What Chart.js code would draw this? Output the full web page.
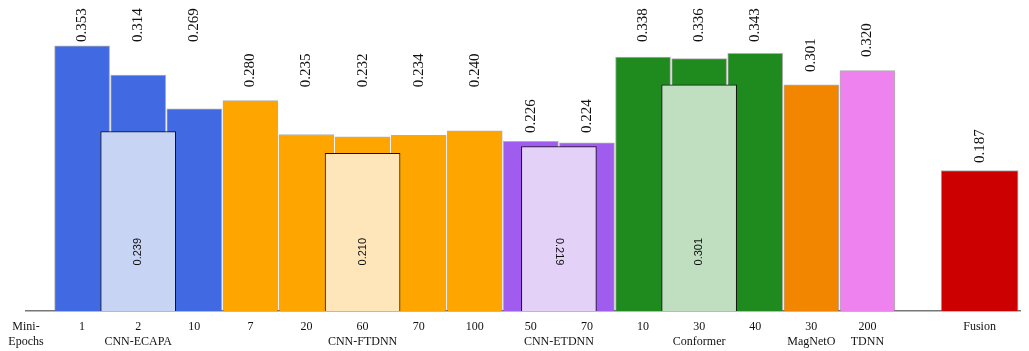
<!DOCTYPE html>
<html>
<head>
<meta charset="utf-8">
<script src="https://cdn.jsdelivr.net/npm/chart.js@4.4.1/dist/chart.umd.min.js"></script>
<style>
  body { margin: 0; background: #fff; }
  #wrap { width: 1029px; height: 351px; }
</style>
</head>
<body>
<div id="wrap"><canvas id="eer-chart" width="1029" height="351"></canvas></div>
<script>
// values
const epochLabels = ['1', '2', '10', '7', '20', '60', '70', '100', '50', '70', '10', '30', '40', '30', '200'];
const barValues = [0.353, 0.314, 0.269, 0.280, 0.235, 0.232, 0.234, 0.240, 0.226, 0.224, 0.338, 0.336, 0.343, 0.301, 0.320];
const groupNames = ['CNN-ECAPA', 'CNN-FTDNN', 'CNN-ETDNN', 'Conformer', 'MagNetO', 'TDNN'];
const groupSizes = [3, 5, 2, 3, 1, 1];
const avgValues = [0.239, 0.210, 0.219, 0.301];   // averages for the first four groups
const fusionLabel = 'Fusion';
const fusionValue = 0.187;

const groupColors = ['#4169E1', '#FFA500', '#A05CEE', '#1F8B1F', '#F38600', '#EE82EE'];
const avgColors = ['#C8D4F4', '#FFE6BA', '#E4D1F8', '#C0DEC0'];
const fusionColor = '#CC0000';
// how far above a group's tallest bar its value labels start (value units)
const labelLift = [0.005, 0.018, 0.011, 0.015, 0.017, 0.018];
const fusionLift = 0.010;

// positions on the x scale: one unit per bar, one empty slot before Fusion
const barPositions = barValues.map((v, i) => i + 1);
const fusionPosition = barValues.length + 2;

const barColors = [];
const barLabelLevel = [];
const groupCenters = [];
let start = 1;
groupSizes.forEach((n, g) => {
    const vals = barValues.slice(start - 1, start - 1 + n);
    const level = Math.max(...vals) + labelLift[g];
    for (let k = 0; k < n; k++) {
        barColors.push(groupColors[g]);
        barLabelLevel.push(level);
    }
    groupCenters.push(start + (n - 1) / 2);
    start += n;
});

// tick labels: first line epochs, second line group name
const tickLabels = {};
tickLabels[0] = ['Mini-', 'Epochs'];
barPositions.forEach((p, i) => { tickLabels[p] = [epochLabels[i]]; });
groupCenters.forEach((c, g) => {
    if (tickLabels[c]) tickLabels[c] = [tickLabels[c][0], groupNames[g]];
    else tickLabels[c] = ['', groupNames[g]];
});
tickLabels[fusionPosition] = [fusionLabel];
const tickPositions = Object.keys(tickLabels).map(Number).sort((a, b) => a - b);

function drawUp(ctx, text, x, y) {
    ctx.save();
    ctx.translate(x, y);
    ctx.rotate(-Math.PI / 2);
    ctx.fillText(text, 0, 0);
    ctx.restore();
}

const valueLabels = {
    id: 'valueLabels',
    afterDatasetsDraw(chart) {
        const ctx = chart.ctx;
        const yScale = chart.scales.y;
        ctx.save();
        ctx.fillStyle = '#111';
        // rotated values above the bars
        ctx.font = '15px "Liberation Serif"';
        ctx.textAlign = 'left';
        ctx.textBaseline = 'middle';
        chart.getDatasetMeta(1).data.forEach((el, i) => {
            drawUp(ctx, barValues[i].toFixed(3), el.x, yScale.getPixelForValue(barLabelLevel[i]));
        });
        chart.getDatasetMeta(2).data.forEach(el => {
            drawUp(ctx, fusionValue.toFixed(3), el.x, yScale.getPixelForValue(fusionValue + fusionLift));
        });
        // averages inside the light bars
        ctx.font = '11px "Liberation Sans"';
        ctx.textAlign = 'center';
        const y = yScale.getPixelForValue(0.079);
        chart.getDatasetMeta(0).data.forEach((el, i) => {
            ctx.save();
            ctx.translate(el.x, y);
            ctx.rotate(i === 2 ? Math.PI / 2 : -Math.PI / 2);
            ctx.fillText(avgValues[i].toFixed(3), 0, 0);
            ctx.restore();
        });
        ctx.restore();
    }
};

const config = {
    type: 'bar',
    data: {
        datasets: [{
            label: 'average',
            data: avgValues.map((v, i) => ({ x: groupCenters[i], y: v })),
            backgroundColor: avgColors,
            borderColor: '#111',
            borderWidth: 1,
            barThickness: 75,
            grouped: false,
            order: 0
        }, {
            label: 'EER',
            data: barValues.map((v, i) => ({ x: barPositions[i], y: v })),
            backgroundColor: barColors,
            borderColor: 'rgba(110,110,110,0.55)',
            borderWidth: 1,
            barThickness: 55,
            grouped: false,
            order: 1
        }, {
            label: 'Fusion',
            data: [{ x: fusionPosition, y: fusionValue }],
            backgroundColor: fusionColor,
            borderColor: 'rgba(110,110,110,0.55)',
            borderWidth: 1,
            barThickness: 77,
            grouped: false,
            order: 1
        }]
    },
    options: {
        responsive: false,
        animation: false,
        devicePixelRatio: 1,
        layout: { padding: { left: 26, right: 9, top: 0, bottom: 0 } },
        plugins: { legend: { display: false }, tooltip: { enabled: false } },
        scales: {
            x: {
                type: 'linear',
                offset: false,
                min: 0,
                max: 17.72,
                grid: { display: false },
                border: { display: true, color: '#777', width: 1.5 },
                afterBuildTicks: scale => { scale.ticks = tickPositions.map(v => ({ value: v })); },
                afterFit: scale => { scale.height = 40; },
                ticks: {
                    autoSkip: false,
                    maxRotation: 0,
                    padding: 0,
                    color: '#111',
                    font: { family: 'Liberation Serif', size: 12, lineHeight: 1.25 },
                    callback: value => tickLabels[value] || ''
                }
            },
            y: {
                display: false,
                min: 0,
                max: 0.414
            }
        }
    },
    plugins: [valueLabels]
};

const chart = new Chart(document.getElementById('eer-chart').getContext('2d'), config);
</script>
</body>
</html>
